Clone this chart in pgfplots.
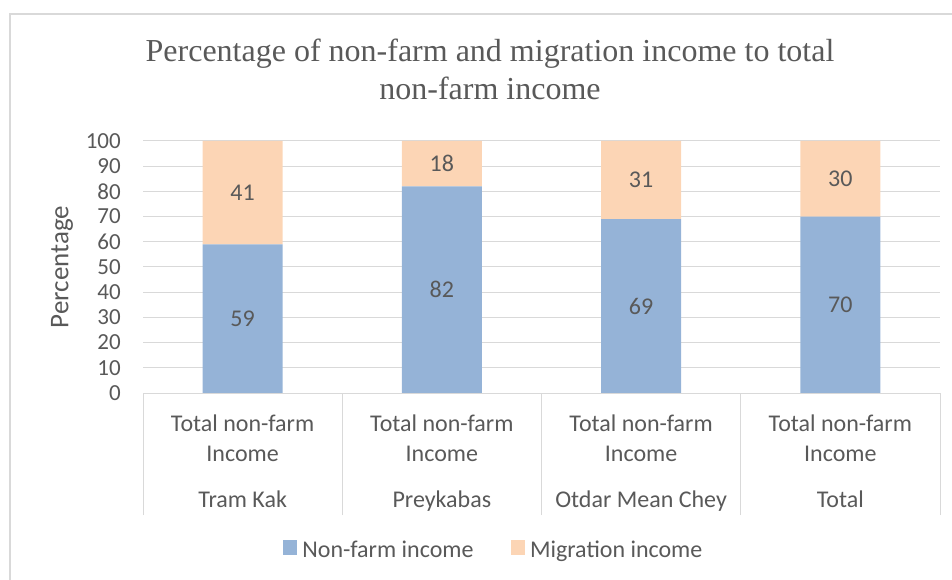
\documentclass[border=0pt]{standalone}
\usepackage{pgfplots}
\pgfplotsset{compat=1.18}
\usepackage{pgfplotstable}
\usepackage{fontspec}
\setmainfont{Carlito}
\newfontfamily\titlefont{Liberation Serif}
\definecolor{bblue}{HTML}{95B3D7}
\definecolor{bpeach}{HTML}{FCD5B5}
\definecolor{gridc}{HTML}{D9D9D9}
\definecolor{txt}{HTML}{595959}
\newcommand{\lblfont}{\fontsize{24bp}{30bp}\selectfont}

\pgfplotstableread{
x nonfarm migration
0 59 41
1 82 18
2 69 31
3 70 30
}\datatable

\pgfplotstableread{
x y label
0 29.5 59
1 41 82
2 34.5 69
3 35 70
0 79.5 41
1 91 18
2 84.5 31
3 85 30
}\labeltable

\begin{document}
\begin{tikzpicture}
\path[use as bounding box] (0,0) rectangle (952bp,580bp);
\begin{scope}
\clip (0,0) rectangle (952bp,580bp);
\draw[gridc, line width=1.3bp] (10bp,-20bp) -- (10bp,566bp) -- (990bp,566bp);
\end{scope}
\node[text=txt, font=\titlefont\fontsize{32bp}{38bp}\selectfont, anchor=base] at (490bp,518bp) {Percentage of non-farm and migration income to total};
\node[text=txt, font=\titlefont\fontsize{32bp}{38bp}\selectfont, anchor=base] at (490bp,480bp) {non-farm income};
\node[text=txt, rotate=90, font=\fontsize{27bp}{32bp}\selectfont, anchor=center] at (62bp,313bp) {Percentage};

\begin{axis}[
 at={(143bp,187bp)}, anchor=south west, scale only axis,
 width=797bp, height=252bp,
 ybar stacked, bar width=80bp,
 xmin=-0.5, xmax=3.5, ymin=0, ymax=100,
 ytick={0,10,...,100},
 /pgf/number format/assume math mode=true,
 ymajorgrids, grid style={draw=gridc, line width=1bp},
 axis x line*=bottom, axis y line*=left,
 y axis line style={draw=none},
 x axis line style={draw=gridc, line width=1bp, -},
 ytick style={draw=none},
 xtick={0,1,2,3},
 xticklabels={{Total non-farm\\Income\\[16bp]Tram Kak},{Total non-farm\\Income\\[16bp]Preykabas},{Total non-farm\\Income\\[16bp]Otdar Mean Chey},{Total non-farm\\Income\\[16bp]Total}},
 xtick style={draw=none},
 xticklabel style={align=center, anchor=north, inner sep=0pt, yshift=-22bp, font=\lblfont, text=txt},
 yticklabel style={font=\fontsize{23bp}{28bp}\selectfont, text=txt, anchor=east, inner sep=0pt, xshift=-22bp},
 extra x ticks={-0.5,0.5,1.5,2.5,3.5},
 extra x tick labels={},
 extra x tick style={xtick style={draw=gridc, line width=1bp}, major tick length=122bp, tick align=outside},
 legend columns=2,
 legend style={at={(0.44,-0.623)}, anchor=center, draw=none, font=\lblfont, text=txt,
   /tikz/every odd column/.append style={column sep=3bp},
   /tikz/every even column/.append style={column sep=35bp}},
 legend image code/.code={\fill[#1] (0bp,-5bp) rectangle (14.5bp,9.5bp);},
]
\addplot[fill=bblue, draw=none] table[x=x, y=nonfarm] {\datatable};
\addlegendentry{Non-farm income}
\addplot[fill=bpeach, draw=none] table[x=x, y=migration] {\datatable};
\addlegendentry{Migration income}
\end{axis}

\begin{axis}[
 at={(143bp,187bp)}, anchor=south west, scale only axis,
 width=797bp, height=252bp,
 xmin=-0.5, xmax=3.5, ymin=0, ymax=100,
 hide axis,
]
\addplot[draw=none, mark=none, nodes near coords, point meta=explicit symbolic,
  every node near coord/.style={anchor=center, font=\lblfont, text=txt}]
  table[x=x, y=y, meta=label] {\labeltable};
\end{axis}
\end{tikzpicture}
\end{document}
